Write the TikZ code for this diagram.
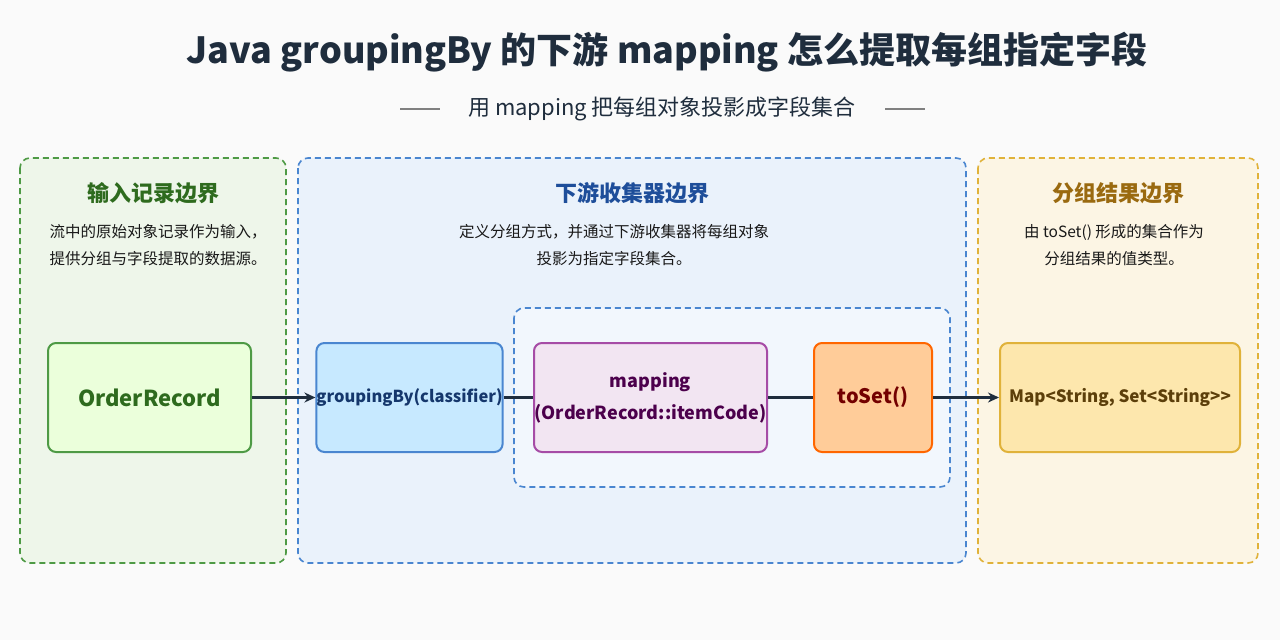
\documentclass[tikz,border=0pt]{standalone}
\usepackage{fontspec}
\setmainfont{Noto Sans CJK SC}
\usetikzlibrary{arrows.meta}
\definecolor{navy}{HTML}{1F2D3D}
\definecolor{gD}{HTML}{4E9A45}\definecolor{gF}{HTML}{EEF6EA}\definecolor{gT}{HTML}{2E6B1E}
\definecolor{bD}{HTML}{4A86D0}\definecolor{bF}{HTML}{EAF2FB}\definecolor{bT}{HTML}{1E4E9A}
\definecolor{oD}{HTML}{E0B23A}\definecolor{oF}{HTML}{FCF5E4}\definecolor{oT}{HTML}{9A6A10}
\begin{document}
\begin{tikzpicture}[x=1pt,y=-1pt,
 panel/.style={draw=#1,dash pattern=on 6pt off 4pt,line width=1.6pt,rounded corners=10pt},
 box/.style={draw=#1,line width=2pt,rounded corners=8pt,align=center,inner xsep=0pt,font=\fontsize{20}{24}\selectfont\bfseries},
 ptitle/.style={font=\fontsize{22}{26}\selectfont\bfseries},
 desc/.style={font=\fontsize{15.5}{27}\selectfont,align=center,text=black!90},
 arr/.style={line width=2.5pt,draw=navy,-{Stealth[length=11pt,width=10pt]}}]
\fill[white!96!gray] (0,0) rectangle (1280,640);
\useasboundingbox (0,0) rectangle (1280,640);
\node[font=\fontsize{36}{42}\selectfont\bfseries,text=navy] (title) at (667,52) {Java groupingBy 的下游 mapping 怎么提取每组指定字段};
\node[font=\fontsize{22}{26}\selectfont,text=navy] (sub) at (662,109) {用 mapping 把每组对象投影成字段集合};
\draw[gray,line width=1.2pt] (400,109)--(440,109) (885,109)--(925,109);
\filldraw[panel=gD,fill=gF] (20,158) rectangle (286,563);
\filldraw[panel=bD,fill=bF] (298,158) rectangle (966,563);
\filldraw[panel=oD,fill=oF] (978,158) rectangle (1258,563);
\node[ptitle,text=gT] (t1) at (153,193) {输入记录边界};
\node[ptitle,text=bT] (t2) at (632,193) {下游收集器边界};
\node[ptitle,text=oT] (t3) at (1118,193) {分组结果边界};
\node[desc] (d1) at (158,245) {流中的原始对象记录作为输入，\\提供分组与字段提取的数据源。};
\node[desc] (d2) at (614,245) {定义分组方式，并通过下游收集器将每组对象\\投影为指定字段集合。};
\node[desc] (d3) at (1114,245) {由 toSet() 形成的集合作为\\分组结果的值类型。};
\draw[panel=bD,fill=bF!60!white] (514,308) rectangle (950,487);
\node[box=gD,fill=green!40!lime!14,text=gT,minimum width=203pt,minimum height=109pt,font=\fontsize{22}{26}\selectfont\bfseries] (a) at (149.5,397.5) {OrderRecord};
\node[box=bD,fill=blue!40!cyan!22,text=bT!70!black,minimum width=185pt,minimum height=109pt,font=\fontsize{16.5}{22}\selectfont\bfseries] (b) at (409.5,397.5) {groupingBy(classifier)};
\node[box=violet!70,fill=violet!10,text=violet!60!black,minimum width=233pt,minimum height=109pt,font=\fontsize{18}{32}\selectfont\bfseries] (c) at (650.5,397.5) {mapping\\(OrderRecord::itemCode)};
\node[box=orange!80!red,fill=orange!40,text=red!45!black,minimum width=118pt,minimum height=109pt] (d) at (873,397.5) {toSet()};
\node[box=oD,fill=yellow!45!orange!30,text=oT!60!black,minimum width=240pt,minimum height=109pt,font=\fontsize{17}{22}\selectfont\bfseries] (e) at (1120,397.5) {Map<String, Set<String>{}>};
\draw[arr] (a)--(b);
\draw[line width=2.5pt,navy] (b)--(c);
\draw[line width=2.5pt,navy] (c)--(d);
\draw[arr] (d)--(e);
\end{tikzpicture}
\end{document}
